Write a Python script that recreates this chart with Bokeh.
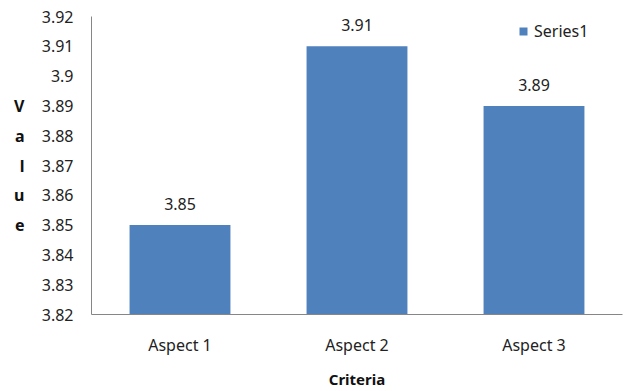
from bokeh.plotting import figure
from bokeh.core.properties import value
from bokeh.models import (ColumnDataSource, FactorRange, Range1d, FixedTicker,
                          LabelSet, LinearAxis, Legend, LegendItem)
from bokeh.embed import file_html
from bokeh.resources import INLINE

# Data
categories = ["Aspect 1", "Aspect 2", "Aspect 3"]
values = [3.85, 3.91, 3.89]
series_name = "Series1"
y_ticks = [3.82, 3.83, 3.84, 3.85, 3.86, 3.87, 3.88, 3.89, 3.90, 3.91, 3.92]
y_tick_labels = ["3.82", "3.83", "3.84", "3.85", "3.86", "3.87", "3.88",
                 "3.89", "3.9", "3.91", "3.92"]
value_labels = ["3.85", "3.91", "3.89"]
y_title_letters = ["V", "a", "l", "u", "e"]
y_title_rows = [3.89, 3.88, 3.87, 3.86, 3.85]

FONT = "Noto Sans"
BAR = "#4F81BD"
AXIS = "#868686"

src = ColumnDataSource(dict(cat=categories, val=values, lab=value_labels))

p = figure(width=634, height=391, x_range=FactorRange(*categories, range_padding=0),
           y_range=Range1d(3.82, 3.92), output_backend="svg",
           toolbar_location=None, min_border_left=91, min_border_right=12,
           min_border_top=16, min_border_bottom=75)
p.outline_line_color = None
p.grid.visible = False
p.background_fill_color = "white"
p.border_fill_color = "white"

bars = p.vbar(x="cat", top="val", bottom=3.82, width=0.57, source=src,
              fill_color=BAR, line_color=None)

# Axes
p.yaxis.ticker = FixedTicker(ticks=y_ticks)
p.yaxis.major_label_overrides = {t: s for t, s in zip(y_ticks, y_tick_labels)}
p.yaxis.major_tick_line_color = None
p.yaxis.major_tick_out = 0
p.yaxis.minor_tick_line_color = None
p.yaxis.axis_line_color = AXIS
p.yaxis.major_label_standoff = 18
p.yaxis.major_label_text_font = FONT
p.yaxis.major_label_text_font_size = "16px"
p.yaxis.major_label_text_color = "#222222"

p.xaxis.major_tick_line_color = None
p.xaxis.major_tick_out = 0
p.xaxis.minor_tick_line_color = None
p.xaxis.axis_line_color = AXIS
p.xaxis.major_label_standoff = 19
p.xaxis.major_label_text_font = FONT
p.xaxis.major_label_text_font_size = "16px"
p.xaxis.major_label_text_color = "#222222"
p.xaxis.axis_label = "Criteria"
p.xaxis.axis_label_text_font = FONT
p.xaxis.axis_label_text_font_size = "15px"
p.xaxis.axis_label_text_font_style = "bold"
p.xaxis.axis_label_text_color = "#111111"
p.xaxis.axis_label_standoff = 10

# Stacked vertical y-axis title, drawn as an outer axis with one letter per row
title_axis = LinearAxis(ticker=FixedTicker(ticks=y_title_rows),
                        major_label_overrides={r: ch for r, ch in
                                               zip(y_title_rows, y_title_letters)},
                        axis_line_color=None, major_tick_line_color=None,
                        minor_tick_line_color=None, major_tick_out=0,
                        major_tick_in=0, major_label_standoff=14,
                        major_label_text_align="center",
                        major_label_text_font=FONT,
                        major_label_text_font_size="16px",
                        major_label_text_font_style="bold",
                        major_label_text_color="#111111")
p.add_layout(title_axis, "left")

# Value labels above bars
p.add_layout(LabelSet(x="cat", y="val", text="lab", source=src,
                      text_align="center", text_baseline="bottom", y_offset=15,
                      text_font=value(FONT), text_font_size=value("16px"),
                      text_color=value("#222222")))

legend = Legend(items=[LegendItem(label=series_name, renderers=[bars])],
                location=(427, 272), glyph_width=10, glyph_height=10,
                label_standoff=6, padding=0, margin=0, border_line_color=None,
                background_fill_alpha=0, label_text_font=FONT,
                label_text_font_size="16px", label_text_color="#222222")
p.add_layout(legend)

open("out.html", "w").write(file_html(p, INLINE))
